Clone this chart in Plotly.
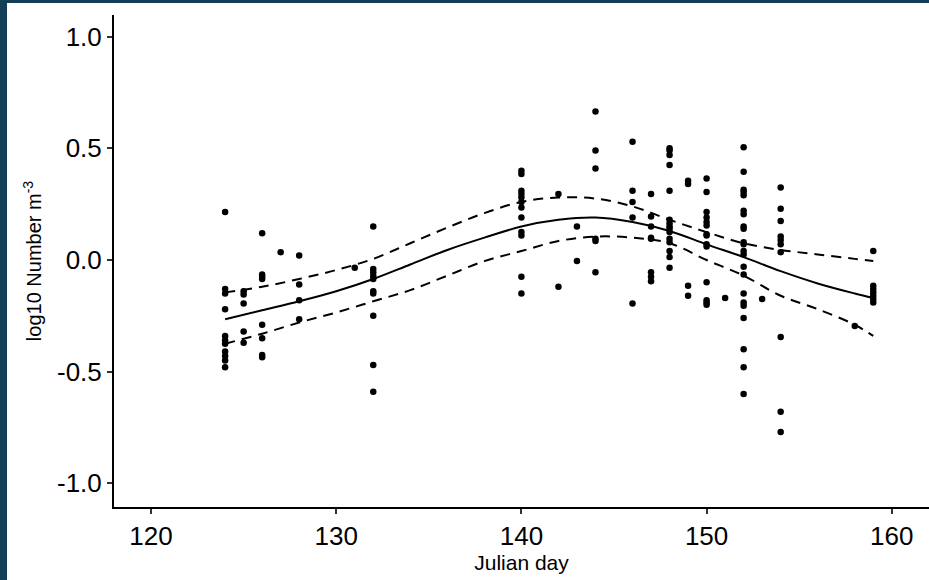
import plotly.graph_objects as go

# Observed values, grouped by Julian day
day_groups = [124, 125, 126, 127, 128, 131, 132, 140, 142, 143, 144, 146, 147,
              148, 149, 150, 151, 152, 153, 154, 158, 159]
values_by_day = [
    [0.215, -0.13, -0.15, -0.22, -0.34, -0.36, -0.375, -0.41, -0.43, -0.45, -0.48],
    [-0.14, -0.155, -0.195, -0.32, -0.37],
    [0.12, -0.065, -0.075, -0.085, -0.29, -0.35, -0.425, -0.435],
    [0.035],
    [0.02, -0.11, -0.18, -0.265],
    [-0.035],
    [0.15, -0.04, -0.055, -0.07, -0.085, -0.14, -0.15, -0.25, -0.47, -0.59],
    [0.40, 0.385, 0.31, 0.295, 0.28, 0.26, 0.235, 0.19, 0.125, 0.11, -0.075, -0.15],
    [0.295, -0.12],
    [0.15, -0.005],
    [0.665, 0.49, 0.41, 0.095, 0.085, -0.055],
    [0.53, 0.31, 0.26, 0.19, -0.195],
    [0.295, 0.195, 0.15, 0.10, 0.095, -0.055, -0.075, -0.095],
    [0.50, 0.49, 0.47, 0.425, 0.31, 0.18, 0.165, 0.15, 0.14, 0.125, 0.095, 0.08,
     0.04, 0.013, -0.035],
    [0.355, 0.34, -0.115, -0.16],
    [0.365, 0.305, 0.215, 0.19, 0.17, 0.155, 0.115, 0.11, 0.07, 0.06, -0.10,
     -0.18, -0.19, -0.20],
    [-0.17],
    [0.505, 0.395, 0.315, 0.305, 0.29, 0.22, 0.205, 0.15, 0.14, 0.08, 0.07, 0.04,
     0.025, -0.03, -0.065, -0.15, -0.19, -0.205, -0.26, -0.40, -0.48, -0.60],
    [-0.175],
    [0.325, 0.23, 0.175, 0.105, 0.09, 0.07, 0.035, -0.345, -0.68, -0.77],
    [-0.295],
    [0.04, -0.115, -0.13, -0.145, -0.16, -0.175, -0.19],
]

# Fitted curve and confidence band
fit_day = [124, 126, 128, 130, 132, 134, 136, 138, 140, 142, 144, 146, 148,
           150, 152, 154, 156, 158, 159]
fit_mean = [-0.265, -0.225, -0.185, -0.14, -0.085, -0.02, 0.045, 0.10, 0.15,
            0.18, 0.19, 0.17, 0.13, 0.07, 0.013, -0.05, -0.105, -0.15, -0.17]
fit_upper = [-0.145, -0.12, -0.085, -0.045, 0.005, 0.075, 0.145, 0.21, 0.26,
             0.28, 0.275, 0.24, 0.18, 0.125, 0.075, 0.045, 0.025, 0.005, -0.005]
fit_lower = [-0.375, -0.33, -0.28, -0.235, -0.185, -0.135, -0.07, -0.005, 0.04,
             0.085, 0.105, 0.10, 0.075, 0.0, -0.07, -0.16, -0.22, -0.29, -0.34]

x_ticks = [120, 130, 140, 150, 160]
y_ticks = [-1.0, -0.5, 0.0, 0.5, 1.0]
y_tick_labels = ["-1.0", "-0.5", "0.0", "0.5", "1.0"]

obs_x = [d for d, vals in zip(day_groups, values_by_day) for _ in vals]
obs_y = [v for vals in values_by_day for v in vals]

fig = go.Figure()
fig.add_trace(go.Scatter(x=obs_x, y=obs_y, mode="markers",
                         marker=dict(color="black", size=6.5, line=dict(width=0)),
                         showlegend=False, hoverinfo="x+y"))
fig.add_trace(go.Scatter(x=fit_day, y=fit_mean, mode="lines",
                         line=dict(color="black", width=2, shape="spline"),
                         showlegend=False))
for band in (fit_upper, fit_lower):
    fig.add_trace(go.Scatter(x=fit_day, y=band, mode="lines",
                             line=dict(color="black", width=2, shape="spline",
                                       dash="10px,7px"),
                             showlegend=False))

W, H = 929, 580
ml, mr, mt, mb = 114, 0, 15, 73
pw, ph = W - ml - mr, H - mt - mb

# white card on the dark frame (frame visible on left 7px and top 3px)
fig.add_shape(type="rect", xref="paper", yref="paper", layer="below",
              x0=(7 - ml) / pw, x1=1.01,
              y0=(mt + ph - H - 5) / ph, y1=(mt + ph - 3) / ph,
              fillcolor="white", line=dict(width=0))

font_family = "Liberation Sans, Arial, sans-serif"
fig.update_layout(
    width=W, height=H,
    margin=dict(l=ml, r=mr, t=mt, b=mb),
    paper_bgcolor="#123f55",
    plot_bgcolor="white",
    font=dict(family=font_family, color="black"),
    xaxis=dict(range=[118.0, 162.01], tickvals=x_ticks, showgrid=False,
               zeroline=False, showline=True, linecolor="black", linewidth=2,
               ticks="outside", ticklen=5, tickwidth=1.5, tickcolor="#333333",
               tickfont=dict(size=26, color="black"),
               title=dict(text="Julian day", font=dict(size=21, color="black"),
                          standoff=0)),
    yaxis=dict(range=[-1.106, 1.097], tickvals=y_ticks, ticktext=y_tick_labels,
               showgrid=False, zeroline=False, showline=True, linecolor="black",
               linewidth=2, ticks="outside", ticklen=5, tickwidth=1.5,
               tickcolor="#333333", tickfont=dict(size=26, color="black"),
               title=dict(text="log10 Number m<sup>-3</sup>",
                          font=dict(size=20, color="black"), standoff=10)),
)

fig.write_html("out.html", config={"displayModeBar": False},
               post_script="document.body.style.margin='0';"
                           "document.body.style.padding='0';")
